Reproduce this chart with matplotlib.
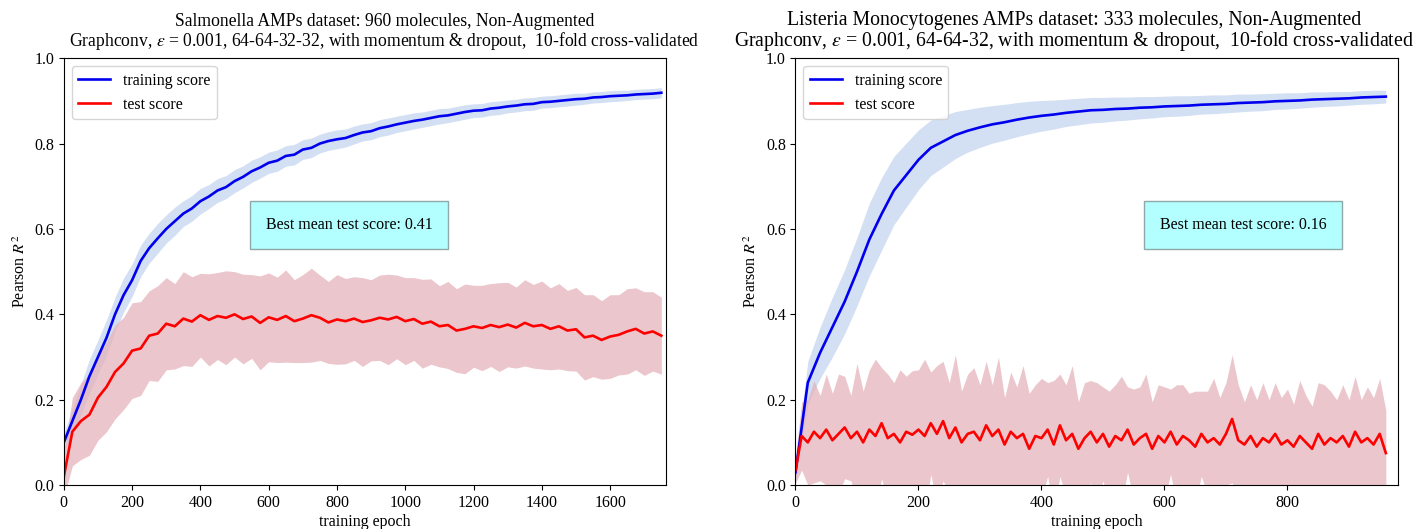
import numpy as np
import matplotlib
matplotlib.use('Agg')
import matplotlib.pyplot as plt

plt.rcParams['font.family'] = ['Liberation Serif', 'DejaVu Serif']
plt.rcParams['mathtext.fontset'] = 'stix'

# ---- Salmonella (left) ----
ep_l = np.arange(0, 1751, 25)
train_l = [0.10, 0.15, 0.20, 0.255, 0.30, 0.345, 0.40, 0.445, 0.48, 0.525,
           0.555, 0.578, 0.60, 0.618, 0.636, 0.648, 0.665, 0.676, 0.69, 0.698,
           0.712, 0.722, 0.735, 0.744, 0.755, 0.76, 0.771, 0.774, 0.786, 0.79,
           0.80, 0.806, 0.81, 0.813, 0.82, 0.826, 0.829, 0.836, 0.84, 0.845,
           0.849, 0.853, 0.856, 0.86, 0.864, 0.866, 0.87, 0.874, 0.877, 0.878,
           0.882, 0.884, 0.887, 0.889, 0.892, 0.893, 0.897, 0.898, 0.900, 0.902,
           0.904, 0.905, 0.908, 0.909, 0.911, 0.912, 0.913, 0.915, 0.916, 0.917,
           0.919]
train_std_l = [0.02, 0.03, 0.035, 0.04, 0.04, 0.042, 0.04, 0.04, 0.038, 0.037,
               0.035, 0.035, 0.033, 0.033, 0.03, 0.03, 0.03, 0.028, 0.028, 0.027,
               0.027, 0.026, 0.026, 0.025, 0.025, 0.025, 0.024, 0.024, 0.023, 0.023,
               0.022, 0.022, 0.022, 0.021, 0.021, 0.02, 0.02, 0.02, 0.02, 0.019,
               0.019, 0.019, 0.018, 0.018, 0.018, 0.017, 0.017, 0.017, 0.016, 0.016,
               0.016, 0.016, 0.015, 0.015, 0.015, 0.015, 0.014, 0.014, 0.014, 0.014,
               0.014, 0.013, 0.013, 0.013, 0.013, 0.013, 0.012, 0.012, 0.012, 0.012,
               0.012]
test_l = [0.02, 0.125, 0.15, 0.165, 0.205, 0.23, 0.265, 0.285, 0.315, 0.32,
          0.35, 0.355, 0.378, 0.372, 0.39, 0.383, 0.398, 0.387, 0.396, 0.392,
          0.40, 0.389, 0.395, 0.38, 0.393, 0.387, 0.396, 0.384, 0.39, 0.398,
          0.392, 0.381, 0.388, 0.384, 0.39, 0.382, 0.386, 0.392, 0.388, 0.394,
          0.384, 0.389, 0.378, 0.383, 0.372, 0.375, 0.362, 0.366, 0.372, 0.368,
          0.375, 0.37, 0.376, 0.369, 0.38, 0.372, 0.375, 0.366, 0.372, 0.362,
          0.365, 0.346, 0.35, 0.34, 0.348, 0.352, 0.36, 0.366, 0.355, 0.36,
          0.35]
test_std_l = [0.05, 0.08, 0.09, 0.095, 0.1, 0.105, 0.11, 0.108, 0.112, 0.11,
              0.105, 0.112, 0.108, 0.1, 0.11, 0.105, 0.098, 0.108, 0.102, 0.11,
              0.1, 0.105, 0.098, 0.11, 0.104, 0.1, 0.108, 0.097, 0.103, 0.11,
              0.1, 0.096, 0.105, 0.1, 0.098, 0.104, 0.095, 0.1, 0.106, 0.098,
              0.102, 0.097, 0.104, 0.1, 0.095, 0.102, 0.098, 0.105, 0.096, 0.1,
              0.097, 0.104, 0.099, 0.095, 0.101, 0.098, 0.103, 0.096, 0.1, 0.094,
              0.098, 0.1, 0.096, 0.092, 0.098, 0.094, 0.1, 0.096, 0.098, 0.093,
              0.09]

# ---- Listeria (right) ----
ep_r_train = np.arange(0, 961, 20)
train_r = [0.03, 0.24, 0.31, 0.37, 0.43, 0.50, 0.575, 0.635, 0.69, 0.726,
           0.762, 0.79, 0.805, 0.82, 0.83, 0.838, 0.845, 0.85, 0.856, 0.861,
           0.865, 0.868, 0.872, 0.875, 0.878, 0.879, 0.881, 0.882, 0.884, 0.885,
           0.887, 0.888, 0.889, 0.891, 0.892, 0.893, 0.895, 0.896, 0.897, 0.899,
           0.90, 0.901, 0.903, 0.904, 0.905, 0.906, 0.908, 0.909, 0.91]
train_std_r = [0.02, 0.05, 0.06, 0.07, 0.075, 0.08, 0.085, 0.085, 0.08, 0.075,
               0.07, 0.065, 0.06, 0.055, 0.05, 0.047, 0.044, 0.042, 0.04, 0.038,
               0.036, 0.034, 0.032, 0.031, 0.03, 0.029, 0.028, 0.027, 0.026, 0.025,
               0.024, 0.024, 0.023, 0.022, 0.022, 0.021, 0.021, 0.02, 0.02, 0.019,
               0.019, 0.018, 0.018, 0.017, 0.017, 0.016, 0.016, 0.016, 0.015]
ep_r_test = np.arange(0, 961, 10)
test_r = [0.035, 0.115, 0.10, 0.125, 0.11, 0.13, 0.105, 0.12, 0.135, 0.11,
          0.125, 0.10, 0.13, 0.115, 0.145, 0.11, 0.12, 0.10, 0.125, 0.118,
          0.13, 0.115, 0.145, 0.12, 0.15, 0.11, 0.135, 0.10, 0.12, 0.125,
          0.105, 0.14, 0.115, 0.13, 0.095, 0.125, 0.11, 0.12, 0.085, 0.115,
          0.11, 0.13, 0.095, 0.14, 0.105, 0.12, 0.085, 0.11, 0.125, 0.10,
          0.12, 0.09, 0.115, 0.105, 0.13, 0.095, 0.11, 0.12, 0.085, 0.115,
          0.10, 0.125, 0.095, 0.115, 0.105, 0.09, 0.12, 0.10, 0.11, 0.095,
          0.12, 0.155, 0.105, 0.095, 0.115, 0.09, 0.11, 0.10, 0.12, 0.095,
          0.105, 0.09, 0.115, 0.10, 0.085, 0.12, 0.095, 0.11, 0.10, 0.115,
          0.09, 0.125, 0.10, 0.11, 0.095, 0.12, 0.075]
test_std_r = [0.03, 0.08, 0.1, 0.12, 0.1, 0.13, 0.11, 0.14, 0.12, 0.1,
              0.16, 0.12, 0.14, 0.18, 0.13, 0.15, 0.12, 0.17, 0.13, 0.15,
              0.14, 0.18, 0.12, 0.16, 0.14, 0.13, 0.17, 0.12, 0.14, 0.15,
              0.13, 0.15, 0.12, 0.17, 0.11, 0.14, 0.12, 0.16, 0.13, 0.12,
              0.14, 0.11, 0.15, 0.12, 0.13, 0.16, 0.11, 0.13, 0.12, 0.14,
              0.11, 0.13, 0.12, 0.15, 0.1, 0.13, 0.12, 0.14, 0.11, 0.12,
              0.13, 0.1, 0.14, 0.12, 0.11, 0.13, 0.1, 0.12, 0.14, 0.11,
              0.12, 0.15, 0.13, 0.1, 0.12, 0.11, 0.13, 0.1, 0.12, 0.11,
              0.12, 0.1, 0.13, 0.11, 0.1, 0.12, 0.14, 0.11, 0.1, 0.12,
              0.11, 0.13, 0.1, 0.12, 0.11, 0.13, 0.1]

titles = ['Salmonella AMPs dataset: 960 molecules, Non-Augmented\n'
          'Graphconv, $\\epsilon$ = 0.001, 64-64-32-32, with momentum & dropout,  10-fold cross-validated',
          'Listeria Monocytogenes AMPs dataset: 333 molecules, Non-Augmented\n'
          'Graphconv, $\\epsilon$ = 0.001, 64-64-32, with momentum & dropout,  10-fold cross-validated']
best = ['Best mean test score: 0.41', 'Best mean test score: 0.16']

fig = plt.figure(figsize=(14.18, 5.29), dpi=100)
ax1 = fig.add_axes([0.045, 0.083, 0.425, 0.807])
ax2 = fig.add_axes([0.561, 0.083, 0.425, 0.807])

panels = [
    (ax1, ep_l, train_l, train_std_l, ep_l, test_l, test_std_l, 1765, (835, 0.609), 0.532, 12.7),
    (ax2, ep_r_train, train_r, train_std_r, ep_r_test, test_r, test_std_r, 980, (728, 0.609), 0.462, 14.2),
]

for i, (ax, xt, tr, trs, xs, te, tes, xmax, boxpos, tx, tfs) in enumerate(panels):
    tr = np.array(tr); trs = np.array(trs)
    te = np.array(te); tes = np.array(tes)
    ax.fill_between(xt, tr - trs, tr + trs, color='#c9d8f0', alpha=0.8, lw=0)
    ax.fill_between(xs, te - tes, te + tes, color='#e5b4bb', alpha=0.75, lw=0)
    ax.plot(xt, tr, color='#0000ee', lw=1.9, label='training score')
    ax.plot(xs, te, color='#ff0000', lw=1.9, label='test score')
    ax.set_xlim(0, xmax)
    ax.set_ylim(0, 1.0)
    ax.set_xlabel('training epoch', fontsize=11.5, labelpad=2)
    ax.set_ylabel('Pearson $R^2$', fontsize=11.5)
    ax.set_title(titles[i], fontsize=tfs, pad=9, linespacing=0.95, x=tx)
    ax.tick_params(labelsize=11.5)
    ax.legend(loc='upper left', fontsize=11.5)
    ax.text(boxpos[0], boxpos[1], best[i], fontsize=11.5, ha='center', va='center',
            bbox=dict(boxstyle='square,pad=1.0', facecolor='#b3ffff', edgecolor='#8fa8a8'))

fig.savefig('out.png', dpi=100)
